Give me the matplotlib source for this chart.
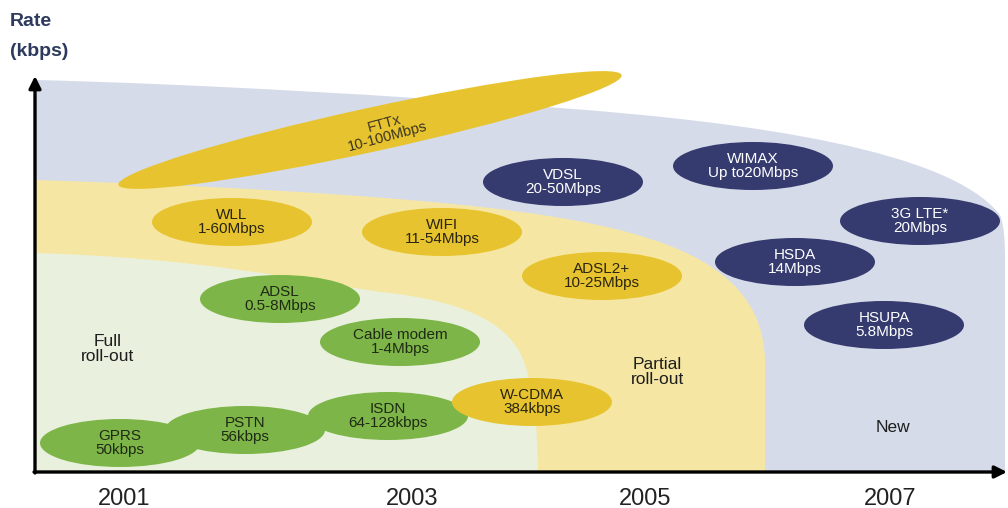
import matplotlib
matplotlib.use("Agg")
import matplotlib.pyplot as plt
from matplotlib.patches import Ellipse, PathPatch
from matplotlib.path import Path

# ---------------- data ----------------
green_labels = ["GPRS\n50kbps", "PSTN\n56kbps", "ISDN\n64-128kbps",
                "ADSL\n0.5-8Mbps", "Cable modem\n1-4Mbps"]
green_x = [120, 245, 388, 280, 400]
green_y = [443, 430, 416, 299, 342]

gold_labels = ["WLL\n1-60Mbps", "WIFI\n11-54Mbps", "ADSL2+\n10-25Mbps", "W-CDMA\n384kbps"]
gold_x = [232, 442, 602, 532]
gold_y = [222, 232, 276, 402]

navy_labels = ["VDSL\n20-50Mbps", "WIMAX\nUp to20Mbps", "3G LTE*\n20Mbps",
               "HSDA\n14Mbps", "HSUPA\n5.8Mbps"]
navy_x = [563, 753, 920, 795, 884]
navy_y = [182, 166, 221, 262, 325]

fttx_label = "FTTx\n10-100Mbps"
fttx_center = (370, 130)

year_labels = ["2001", "2003", "2005", "2007"]
year_x = [124, 412, 645, 890]

zone_labels = ["Full\nroll-out", "Partial\nroll-out", "New"]
zone_x = [108, 657, 893]
zone_y = [349, 372, 428]

# ---------------- style ----------------
C_BLUE_BG = "#d6dbea"
C_YEL_BG = "#f5e7a3"
C_GRN_BG = "#e9f1de"
C_GOLD = "#e7c42f"
C_GREEN = "#7db548"
C_NAVY = "#353a6f"
FONT = ["Liberation Sans", "DejaVu Sans"]

fig = plt.figure(figsize=(10.08, 5.08), dpi=100)
ax = fig.add_axes([0, 0, 1, 1])
ax.set_xlim(0, 1008)
ax.set_ylim(508, 0)
ax.axis("off")

M, L, C4, CL = Path.MOVETO, Path.LINETO, Path.CURVE4, Path.CLOSEPOLY

blue_verts = [(35, 472), (35, 80),
              (200, 84), (400, 96), (560, 108),
              (750, 122), (950, 150), (1000, 215),
              (1004, 225), (1005, 240), (1005, 260),
              (1005, 472), (35, 472)]
blue_codes = [M, L, C4, C4, C4, C4, C4, C4, C4, C4, C4, L, CL]

yel_verts = [(35, 472), (35, 180),
             (200, 185), (380, 195), (490, 208),
             (660, 228), (762, 262), (765, 360),
             (765, 472), (35, 472)]
yel_codes = [M, L, C4, C4, C4, C4, C4, C4, L, CL]

grn_verts = [(35, 472), (35, 253),
             (200, 258), (300, 280), (380, 292),
             (460, 300), (512, 322), (525, 365),
             (534, 392), (537, 420), (538, 472),
             (35, 472)]
grn_codes = [M, L, C4, C4, C4, C4, C4, C4, C4, C4, C4, CL]

for verts, codes, col in [(blue_verts, blue_codes, C_BLUE_BG),
                          (yel_verts, yel_codes, C_YEL_BG),
                          (grn_verts, grn_codes, C_GRN_BG)]:
    ax.add_patch(PathPatch(Path(verts, codes), facecolor=col, edgecolor="none", zorder=1))

# FTTx long ellipse
ax.add_patch(Ellipse(fttx_center, 515, 44, angle=-12.3, facecolor=C_GOLD,
                     edgecolor="none", zorder=2))
ax.text(fttx_center[0] + 16, fttx_center[1], fttx_label, rotation=15, ha="center", va="center",
        fontsize=10.5, color="#3a3320", family=FONT, linespacing=1.0,
        rotation_mode="anchor", zorder=5)

EW, EH = 160, 48


def draw_group(labels, xs, ys, face, tcol):
    for lab, x, y in zip(labels, xs, ys):
        ax.add_patch(Ellipse((x, y), EW, EH, facecolor=face, edgecolor="none", zorder=3))
        ax.text(x, y, lab, ha="center", va="center", fontsize=11, color=tcol,
                family=FONT, linespacing=1.0, zorder=5)


draw_group(green_labels, green_x, green_y, C_GREEN, "#1f2a14")
draw_group(gold_labels, gold_x, gold_y, C_GOLD, "#2a2410")
draw_group(navy_labels, navy_x, navy_y, C_NAVY, "white")

for lab, x, y in zip(zone_labels, zone_x, zone_y):
    ax.text(x, y, lab, ha="center", va="center", fontsize=12.5, color="#1e1e1e",
            family=FONT, linespacing=0.95, zorder=5)

for lab, x in zip(year_labels, year_x):
    ax.text(x, 488, lab, ha="center", va="top", fontsize=17, color="#222222",
            family=FONT, zorder=5)

ax.text(10, 22, "Rate", ha="left", va="center", fontsize=14, fontweight="bold",
        color="#2d3a5e", family=FONT)
ax.text(10, 51, "(kbps)", ha="left", va="center", fontsize=14, fontweight="bold",
        color="#2d3a5e", family=FONT)

# axes arrows
ax.annotate("", xy=(35, 76), xytext=(35, 473),
            arrowprops=dict(arrowstyle="-|>", lw=2.4, color="black", mutation_scale=18,
                            shrinkA=0, shrinkB=0), zorder=6)
ax.annotate("", xy=(1007, 472), xytext=(34, 472),
            arrowprops=dict(arrowstyle="-|>", lw=2.4, color="black", mutation_scale=18,
                            shrinkA=0, shrinkB=0), zorder=6)

fig.savefig("out.png", dpi=100, facecolor="white")
